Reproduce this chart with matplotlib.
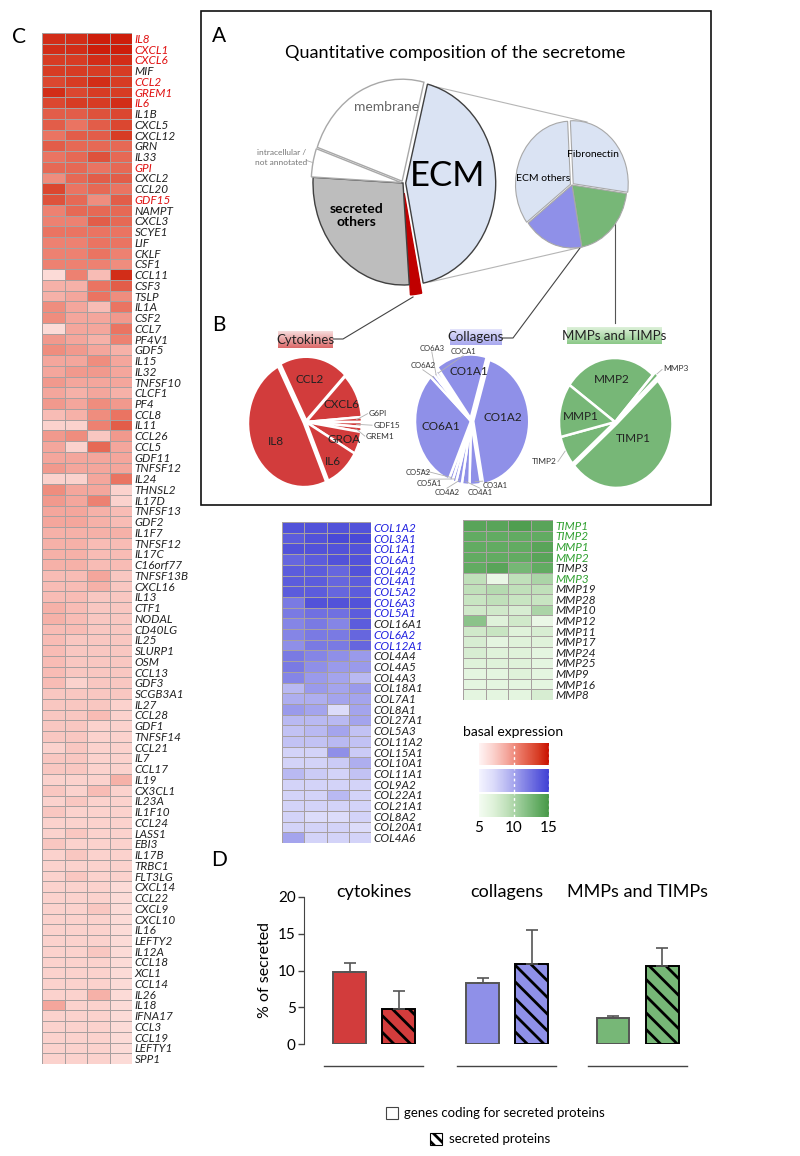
import matplotlib
matplotlib.use("Agg")
import matplotlib.pyplot as plt
import numpy as np
from matplotlib.colors import LinearSegmentedColormap, Normalize
from matplotlib.cm import ScalarMappable
from matplotlib.patches import Rectangle

plt.rcParams["font.family"] = ["Lato", "DejaVu Sans"]
plt.rcParams["hatch.linewidth"] = 2.0

W, H = 800, 1156

# ---------------- data ----------------
# C: cytokine basal expression (4 samples, scale 5-15)
cytokine_genes = [
    "IL8", "CXCL1", "CXCL6", "MIF", "CCL2", "GREM1", "IL6", "IL1B", "CXCL5", "CXCL12",
    "GRN", "IL33", "GPI", "CXCL2", "CCL20", "GDF15", "NAMPT", "CXCL3", "SCYE1", "LIF",
    "CKLF", "CSF1", "CCL11", "CSF3", "TSLP", "IL1A", "CSF2", "CCL7", "PF4V1", "GDF5",
    "IL15", "IL32", "TNFSF10", "CLCF1", "PF4", "CCL8", "IL11", "CCL26", "CCL5", "GDF11",
    "TNFSF12", "IL24", "THNSL2", "IL17D", "TNFSF13", "GDF2", "IL1F7", "TNFSF12", "IL17C", "C16orf77",
    "TNFSF13B", "CXCL16", "IL13", "CTF1", "NODAL", "CD40LG", "IL25", "SLURP1", "OSM", "CCL13",
    "GDF3", "SCGB3A1", "IL27", "CCL28", "GDF1", "TNFSF14", "CCL21", "IL7", "CCL17", "IL19",
    "CX3CL1", "IL23A", "IL1F10", "CCL24", "LASS1", "EBI3", "IL17B", "TRBC1", "FLT3LG", "CXCL14",
    "CCL22", "CXCL9", "CXCL10", "IL16", "LEFTY2", "IL12A", "CCL18", "XCL1", "CCL14", "IL26",
    "IL18", "IFNA17", "CCL3", "CCL19", "LEFTY1", "SPP1",
]
cytokine_secreted = ["IL8", "CXCL1", "CXCL6", "CCL2", "GREM1", "IL6", "GPI", "GDF15"]
cytokine_expr = [
    [14, 14, 14.5, 14.5], [14, 14, 14.5, 14.5], [13.5, 13.5, 14, 14], [13.5, 13.5, 13.5, 13.5],
    [13, 13.5, 14, 13.5], [14, 13, 13.5, 13.5], [13, 13.5, 13.5, 14], [12, 12, 12.5, 13],
    [12, 11, 12, 13], [11, 12, 12, 13.5], [12, 11.5, 11.5, 11.5], [11, 11.5, 12.5, 11.5],
    [11.5, 11.5, 11, 11.5], [10, 11.5, 12, 12], [13, 11, 11.5, 11], [12.5, 11.5, 10, 12],
    [10.5, 11.5, 11.5, 11.5], [10.5, 10.5, 12, 11.5], [11, 11, 11, 11], [10.5, 10.5, 11, 11],
    [10.5, 10.5, 11, 10.5], [10.5, 10.5, 10.5, 10], [6.5, 10.5, 8, 14], [8.5, 8.5, 11, 12],
    [8.5, 9, 11, 10], [10, 9, 8, 11], [10, 9, 9, 9.5], [6.5, 9, 9, 11],
    [9.5, 9, 8.5, 10.5], [10, 9.5, 9, 8.5], [9, 9, 10, 9], [9, 9.5, 9.5, 9],
    [9.5, 9, 9, 9], [9, 8.5, 9, 8.5], [9.5, 9, 10, 9.5], [8, 8.5, 10, 11],
    [7, 7, 10.5, 12], [9.5, 10, 7.5, 9.5], [9, 7, 11.5, 9], [9, 9, 9, 9],
    [9.5, 9, 9, 9], [7, 7, 9, 11], [10, 9, 9, 7], [9.5, 9, 10.5, 7],
    [9, 9, 8.5, 8], [9, 9, 8.5, 8], [8.5, 8.5, 8.5, 8.5], [8.5, 8.5, 8, 8],
    [8.5, 8.5, 8, 8], [8.5, 8.5, 8, 8], [8, 8, 9, 7.5], [8, 8, 8.5, 7.5],
    [8, 8, 7.5, 7.5], [8.5, 8, 7.5, 7.5], [8.5, 8, 7.5, 7.5], [8, 8, 7.5, 7.5],
    [8, 7.5, 7.5, 7.5], [8, 7.5, 7.5, 7.5], [8, 7.5, 7.5, 7.5], [8, 7.5, 7.5, 7.5],
    [8, 7, 7.5, 7.5], [7.5, 7.5, 7.5, 7.5], [7.5, 7.5, 7.5, 7], [7.5, 7.5, 8, 7],
    [7.5, 7.5, 7, 7], [7.5, 7.5, 7, 7], [7, 7.5, 7, 7], [7.5, 7.5, 7, 7],
    [7.5, 7.5, 7, 7], [7, 7, 7, 8.5], [7.5, 7, 8, 7], [7, 7.5, 7, 7],
    [7.5, 7, 7, 7], [7, 7, 7, 7], [7, 7.5, 7, 7], [7.5, 7, 7, 7],
    [7, 7.5, 7, 7], [7, 7, 7, 7], [7, 7.5, 7, 7], [7, 7, 7, 6.5],
    [7, 7, 7, 6.5], [7, 7, 7.5, 6.5], [7, 7, 7, 6.5], [7, 7, 7, 6.5],
    [7, 7, 7, 6.5], [7, 7, 7.5, 6.5], [7, 7, 7, 6.5], [7, 7, 7, 6.5],
    [7, 7, 7, 6.5], [7, 7, 8.5, 6.5], [9, 7, 7, 6.5], [7, 7, 7, 6.5],
    [7, 7, 7, 6.5], [7, 7, 7, 6.5], [7, 7, 7, 6.5], [7, 7, 7, 6.5],
]

collagen_genes = [
    "COL1A2", "COL3A1", "COL1A1", "COL6A1", "COL4A2", "COL4A1", "COL5A2", "COL6A3", "COL5A1", "COL16A1",
    "COL6A2", "COL12A1", "COL4A4", "COL4A5", "COL4A3", "COL18A1", "COL7A1", "COL8A1", "COL27A1", "COL5A3",
    "COL11A2", "COL15A1", "COL10A1", "COL11A1", "COL9A2", "COL22A1", "COL21A1", "COL8A2", "COL20A1", "COL4A6",
]
collagen_secreted = ["COL1A2", "COL3A1", "COL1A1", "COL6A1", "COL4A2", "COL4A1", "COL5A2",
                     "COL6A3", "COL5A1", "COL6A2", "COL12A1"]
collagen_expr = [
    [14, 14, 14, 14], [13.5, 14, 14.5, 14.5], [14, 14, 14, 14], [13, 13.5, 14, 14],
    [13.5, 13.5, 13, 14], [13.5, 13.5, 13, 13.5], [13.5, 13.5, 13, 13.5], [12, 14, 14, 14],
    [12, 12.5, 12.5, 13.5], [11.5, 12, 11.5, 13.5], [11.5, 12, 12, 13], [11, 12, 12, 13],
    [12, 11.5, 11, 10.5], [12, 11, 10.5, 10.5], [11.5, 10.5, 10, 9], [9, 10.5, 10, 10.5],
    [9.5, 9.5, 10, 10], [10.5, 10, 7, 10], [9, 9, 9, 10], [8.5, 9, 10, 8.5],
    [8.5, 8.5, 9, 8.5], [7.5, 7.5, 11, 8], [7.5, 7.5, 8, 9.5], [9, 8, 7.5, 8.5],
    [7.5, 7.5, 7.5, 7.5], [7.5, 7.5, 9, 7.5], [7.5, 7.5, 7.5, 7.5], [7.5, 7, 7, 7.5],
    [7.5, 7.5, 7.5, 7], [10, 7.5, 7.5, 7.5],
]

mmp_genes = ["TIMP1", "TIMP2", "MMP1", "MMP2", "TIMP3", "MMP3", "MMP19", "MMP28", "MMP10",
             "MMP12", "MMP11", "MMP17", "MMP24", "MMP25", "MMP9", "MMP16", "MMP8"]
mmp_secreted = ["TIMP1", "TIMP2", "MMP1", "MMP2", "MMP3"]
mmp_expr = [
    [14, 14, 14.5, 14], [13.5, 13.5, 13.5, 13.5], [13.5, 13.5, 13.5, 14], [13.5, 13.5, 13.5, 14],
    [13.5, 14, 12.5, 13.5], [9, 6, 9, 10], [9, 9.5, 9, 9], [8.5, 9, 8.5, 8.5],
    [8, 8, 7.5, 10], [11.5, 7, 8, 6], [8, 8.5, 7, 7.5], [7.5, 6.5, 7, 7],
    [7.5, 7, 7, 6.5], [7, 7, 7, 6.5], [6.5, 6.5, 7, 6.5], [6.5, 6.5, 6.5, 6.5],
    [6.5, 6.5, 6.5, 7.5],
]

# A: secretome composition (%)
secretome_parts = ["ECM", "cytokines", "secreted others", "intracellular / not annotated", "membrane"]
secretome_pct = [43, 2, 27, 4.5, 23.5]
ecm_parts = ["Fibronectin", "MMPs and TIMPs", "Collagens", "ECM others"]
ecm_pct = [28, 20, 17.5, 34.5]

# B: composition of each group (%)
cyto_parts = ["CCL2", "CXCL6", "G6PI", "GDF15", "GREM1", "GROA", "IL6", "IL8"]
cyto_pct = [20, 11.4, 1.25, 1.25, 1.25, 5.7, 10.3, 48.85]
coll_parts = ["CO1A2", "CO3A1", "CO4A1", "CO4A2", "CO5A1", "CO5A2", "CO6A1",
              "CO6A2", "CO6A3", "COCA1", "CO1A1"]
coll_pct = [42.5, 3.3, 2.2, 1.7, 1.1, 1.1, 30.6, 1.1, 0.8, 0.8, 14.8]
mmp_parts = ["MMP2", "MMP3", "TIMP1", "TIMP2", "MMP1"]
mmp_pct = [27, 1.3, 50.6, 7.5, 13.6]

# D: share of secreted (%)
groups = ["cytokines", "collagens", "MMPs and TIMPs"]
genes_pct = [9.8, 8.3, 3.55]
genes_err = [1.25, 0.63, 0.3]
proteins_pct = [4.8, 10.85, 10.65]
proteins_err = [2.45, 4.65, 2.45]

# ---------------- style ----------------
RED, BLUE, GREEN = "#d23c3c", "#8f90e8", "#77b777"
stops = [0, 0.2, 0.4, 0.6, 0.85, 1.0]
red_cmap = LinearSegmentedColormap.from_list(
    "r", list(zip(stops, ["#fff4f4", "#fbd2cd", "#f4a69c", "#ea7462", "#d73c24", "#c81000"])))
blue_cmap = LinearSegmentedColormap.from_list(
    "b", list(zip(stops, ["#f4f4ff", "#dcdcfa", "#b9b9f2", "#8f8fe8", "#5c5cdc", "#4040d4"])))
green_cmap = LinearSegmentedColormap.from_list(
    "g", list(zip(stops, ["#f4fcf2", "#dff2da", "#c0e0ba", "#96c994", "#62ab62", "#489848"])))


def px_axes(fig, x0, y0, x1, y1):
    return fig.add_axes([x0 / W, 1 - y1 / H, (x1 - x0) / W, (y1 - y0) / H])


def heatmap(fig, box, values, labels, highlight, cmap, hl_color):
    ax = px_axes(fig, *box)
    vals = np.array(values)
    ax.pcolormesh(vals, cmap=cmap, vmin=5, vmax=15, edgecolors="#a8a0a0", linewidth=0.4)
    ax.set_xlim(0, vals.shape[1])
    ax.set_ylim(len(labels), 0)
    ax.set_xticks([])
    ax.yaxis.tick_right()
    ax.set_yticks(np.arange(len(labels)) + 0.5)
    ax.set_yticklabels(labels, fontsize=8.5, style="italic")
    for t, name in zip(ax.get_yticklabels(), labels):
        t.set_color(hl_color if name in highlight else "#222222")
    ax.tick_params(axis="y", length=0, pad=2)
    for s in ax.spines.values():
        s.set_visible(False)
    return ax


def pie_axes(fig, cx, cy, rx, ry, pad=1.4):
    return px_axes(fig, cx - pad * rx, cy - pad * ry, cx + pad * rx, cy + pad * ry)


def finish_pie(ax, pad=1.4):
    ax.set_aspect("auto")
    ax.set_xlim(-pad, pad)
    ax.set_ylim(-pad, pad)


def edge_point(w, frac=1.0):
    ang = np.deg2rad((w.theta1 + w.theta2) / 2)
    return w.center[0] + frac * w.r * np.cos(ang), w.center[1] + frac * w.r * np.sin(ang)


def leader(ax, w, xy, frac=1.0):
    x0, y0 = edge_point(w, frac)
    ax.plot([x0, xy[0]], [y0, xy[1]], color="#b0b0b0", lw=0.6, clip_on=False)


def gradient_box(fig, box, top, bottom, text):
    ax = px_axes(fig, *box)
    cm = LinearSegmentedColormap.from_list("gb", [top, bottom])
    ax.imshow(np.linspace(0, 1, 20).reshape(-1, 1), cmap=cm, aspect="auto",
              extent=(0, 1, 1, 0))
    ax.text(0.5, 0.5, text, ha="center", va="center", fontsize=9.5, color="#222222")
    ax.axis("off")


fig = plt.figure(figsize=(W / 100, H / 100), dpi=100)

# background layer in pixel coordinates (panel frame, letters, connectors)
bg = fig.add_axes([0, 0, 1, 1])
bg.set_xlim(0, W)
bg.set_ylim(H, 0)
bg.axis("off")
bg.add_patch(Rectangle((201, 11), 510, 494, fill=False, lw=1.2, ec="#111111"))
for letter, x, y in [("C", 19, 37), ("A", 219, 36), ("B", 219, 325), ("D", 219, 860)]:
    bg.text(x, y, letter, fontsize=15, ha="center", va="center")
bg.text(455, 53, "Quantitative composition of the secretome", fontsize=13, ha="center", va="center")
# zoom lines big pie -> ECM pie
bg.plot([428, 587], [85, 122], color="#b5b5b5", lw=0.8)
bg.plot([430, 582], [282, 247], color="#b5b5b5", lw=0.8)
# connectors to panel B
bg.plot([413, 343, 333], [297, 339, 339], color="#444444", lw=0.8)
bg.plot([580, 513, 502], [248, 338, 338], color="#444444", lw=0.8)
bg.plot([615, 615], [223, 323], color="#555555", lw=0.8)

# ---------------- C ----------------
heatmap(fig, (42, 33, 132, 1064), cytokine_expr, cytokine_genes, cytokine_secreted, red_cmap, "#e01010")
heatmap(fig, (282, 522, 371, 843), collagen_expr, collagen_genes, collagen_secreted, blue_cmap, "#2020e0")
heatmap(fig, (463, 520, 553, 700), mmp_expr, mmp_genes, mmp_secreted, green_cmap, "#30a030")

bg.text(463, 732, "basal expression", fontsize=10, ha="left", va="center")
norm = Normalize(5, 15)
for i, (cm, (y0, y1)) in enumerate(zip([red_cmap, blue_cmap, green_cmap],
                                       [(743, 765), (769, 792), (794, 817)])):
    cax = px_axes(fig, 479, y0, 549, y1)
    cb = fig.colorbar(ScalarMappable(norm=norm, cmap=cm), cax=cax, orientation="horizontal")
    cb.outline.set_visible(False)
    for v in (10, 15):
        cax.axvline(v, color="white", ls=(0, (2, 2)), lw=1)
    if i == 2:
        cb.set_ticks([5, 10, 15])
        cax.tick_params(length=0, labelsize=11, pad=3)
    else:
        cb.set_ticks([])

# ---------------- A ----------------
ax = pie_axes(fig, 403, 183, 90, 102)
wedges, _ = ax.pie(secretome_pct, startangle=76, counterclock=False,
                   colors=["#dae3f3", "#c00000", "#bdbdbd", "white", "white"],
                   explode=[0.03, 0.1, 0.0, 0.02, 0.02],
                   wedgeprops=dict(linewidth=1.0))
for w, ec in zip(wedges, ["#404040", "#c00000", "#404040", "#a8a8a8", "#a8a8a8"]):
    w.set_edgecolor(ec)
finish_pie(ax)
ax.text(0.49, 0.07, "ECM", fontsize=25, ha="center", va="center")
ax.text(-0.18, 0.75, "membrane", fontsize=10, color="#666666", ha="center", va="center")
ax.text(-0.52, -0.32, "secreted\nothers", fontsize=10, fontweight="bold", ha="center",
        va="center", linespacing=1.1)
ax.text(-1.35, 0.25, "intracellular /\nnot annotated", fontsize=6, color="#777777",
        ha="center", va="center", linespacing=1.5)
leader(ax, wedges[3], (-1.07, 0.22))

ax = pie_axes(fig, 572, 185, 55, 63)
wedges, _ = ax.pie(ecm_pct, startangle=93, counterclock=False,
                   colors=["#dae3f3", GREEN, BLUE, "#dae3f3"],
                   explode=[0.03, 0.0, 0.0, 0.03],
                   wedgeprops=dict(linewidth=0.8, edgecolor="#a8a8a8"))
finish_pie(ax)
ax.text(0.38, 0.49, "Fibronectin", fontsize=7.5, ha="center", va="center")
ax.text(-0.53, 0.11, "ECM others", fontsize=7.5, ha="center", va="center")

# ---------------- B ----------------
gradient_box(fig, (278, 331, 333, 348), "#f6dada", "#dc6a6a", "Cytokines")
gradient_box(fig, (450, 329, 502, 345), "#e2e2fb", "#a9a9ef", "Collagens")
gradient_box(fig, (567, 327, 662, 344), "#dcf0d8", "#8dc98a", "MMPs and TIMPs")

wp = dict(linewidth=1.8, edgecolor="white")
ax = pie_axes(fig, 306, 422, 56, 64)
wedges, _ = ax.pie(cyto_pct, startangle=117.5, counterclock=False, colors=[RED] * 8,
                   explode=[0.02, 0, 0, 0, 0, 0, 0, 0.04], wedgeprops=wp)
finish_pie(ax)
for name, xy in [("CCL2", (0.07, 0.66)), ("CXCL6", (0.64, 0.27)), ("GROA", (0.68, -0.28)),
                 ("IL6", (0.48, -0.61)), ("IL8", (-0.54, -0.31))]:
    ax.text(*xy, name, fontsize=8.5, ha="center", va="center", color="#222222")
for k, (name, xy) in zip([2, 3, 4], [("G6PI", (1.12, 0.13)), ("GDF15", (1.2, -0.05)),
                                     ("GREM1", (1.07, -0.22))]):
    ax.text(*xy, name, fontsize=6, ha="left", va="center", color="#333333")
    leader(ax, wedges[k], (xy[0] - 0.02, xy[1]), frac=0.9)

ax = pie_axes(fig, 471, 421, 56, 64)
wedges, _ = ax.pie(coll_pct, startangle=73.3, counterclock=False, colors=[BLUE] * 11,
                   explode=[0.04, 0, 0, 0, 0, 0, 0, 0, 0, 0, 0.04], wedgeprops=wp)
finish_pie(ax)
for name, xy in [("CO1A2", (0.57, 0.05)), ("CO1A1", (-0.04, 0.78)), ("CO6A1", (-0.54, -0.08))]:
    ax.text(*xy, name, fontsize=8.5, ha="center", va="center", color="#222222")
small = {"CO3A1": (0.21, -1.0, "left"), "CO4A1": (0.16, -1.11, "center"),
         "CO4A2": (-0.43, -1.11, "center"), "CO5A1": (-0.75, -0.97, "center"),
         "CO5A2": (-0.95, -0.81, "center"), "CO6A2": (-0.86, 0.86, "center"),
         "CO6A3": (-0.70, 1.14, "center"), "COCA1": (-0.14, 1.08, "center")}
for k, name in enumerate(coll_parts):
    if name in small:
        x, y, ha = small[name]
        ax.text(x, y, name, fontsize=5.5, ha=ha, va="center", color="#333333")
        leader(ax, wedges[k], (x, y + (0.06 if y < 0 else -0.06)), frac=0.95)

ax = pie_axes(fig, 615, 422, 56, 64)
wedges, _ = ax.pie(mmp_pct, startangle=144.6, counterclock=False, colors=[GREEN] * 5,
                   explode=[0, 0.06, 0.04, 0, 0], wedgeprops=wp)
finish_pie(ax)
for name, xy in [("MMP2", (-0.05, 0.66)), ("MMP1", (-0.61, 0.09)), ("TIMP1", (0.32, -0.25))]:
    ax.text(*xy, name, fontsize=8.5, ha="center", va="center", color="#222222")
ax.text(0.86, 0.84, "MMP3", fontsize=6, ha="left", va="center", color="#333333")
leader(ax, wedges[1], (0.84, 0.82))
ax.text(-1.04, -0.62, "TIMP2", fontsize=6, ha="right", va="center", color="#333333")
leader(ax, wedges[3], (-1.02, -0.62))

# ---------------- D ----------------
ax = px_axes(fig, 304, 897, 693, 1044)
pos = np.array([0, 2.71, 5.37])
bw = 0.67
ekw = dict(ecolor="#555555", elinewidth=1.2, capsize=4, capthick=1.2)
colors = [RED, BLUE, GREEN]
ax.bar(pos, genes_pct, bw, color=colors, edgecolor="#555555", linewidth=1.4,
       yerr=[np.zeros(3), genes_err], error_kw=ekw)
ax.bar(pos + 1, proteins_pct, bw, color=colors, edgecolor="black", linewidth=1.4,
       hatch="\\\\", yerr=[np.zeros(3), proteins_err], error_kw=ekw)
ax.set_xlim(-0.93, 7.0)
ax.set_ylim(0, 20)
ax.set_yticks([0, 5, 10, 15, 20])
ax.tick_params(axis="y", labelsize=11, length=4, width=1, color="#444444", pad=2)
ax.set_xticks([])
for s in ["top", "right", "bottom"]:
    ax.spines[s].set_visible(False)
ax.spines["left"].set_color("#444444")
ax.set_ylabel("% of secreted", fontsize=11.5, labelpad=4)
for p, g in zip(pos, groups):
    ax.text(p + 0.5, 20.7, g, fontsize=13, ha="center", va="center", clip_on=False)
    ax.plot([p - 0.52, p + 1.5], [-3.0, -3.0], color="#444444", lw=1, clip_on=False)

bg.add_patch(Rectangle((386, 1107), 12, 12, fill=False, ec="#444444", lw=0.8))
bg.text(404, 1113, "genes coding for secreted proteins", fontsize=9.5, ha="left", va="center")
bg.add_patch(Rectangle((430, 1133), 12, 12, facecolor="white", ec="black", lw=0.8, hatch="\\\\\\"))
bg.text(449, 1139, "secreted proteins", fontsize=9.5, ha="left", va="center")

fig.savefig("out.png", dpi=100)
